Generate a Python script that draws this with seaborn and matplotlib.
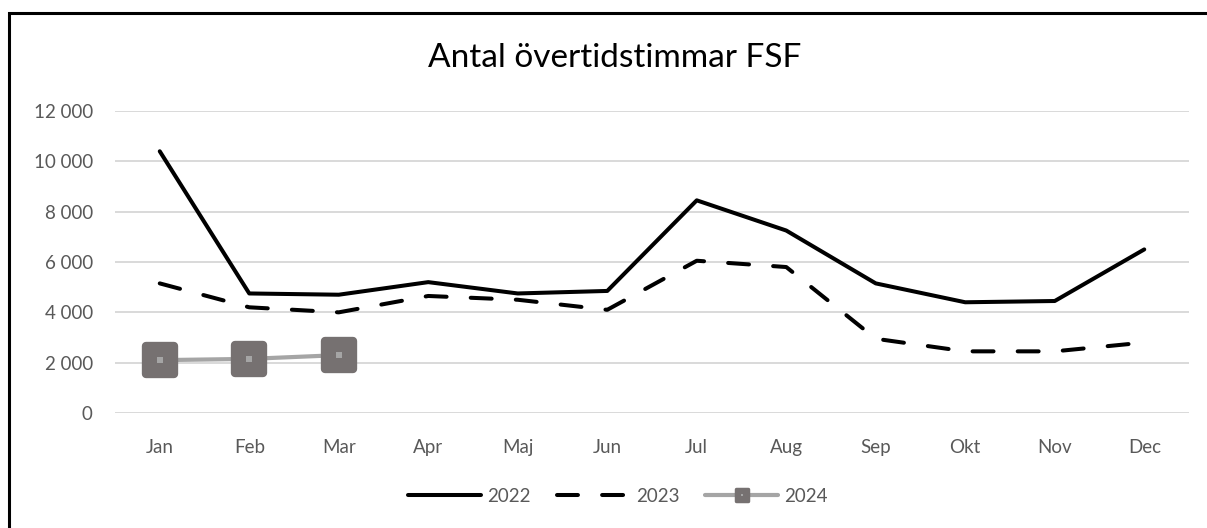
import matplotlib
matplotlib.use("Agg")
import matplotlib.pyplot as plt
import numpy as np
import pandas as pd
import seaborn as sns
from matplotlib.lines import Line2D
from matplotlib.markers import MarkerStyle
from matplotlib.patches import Rectangle

sns.set_theme(style="white")
plt.rcParams["font.family"] = ["Lato", "DejaVu Sans"]

# Monthly overtime hours per year
months = ["Jan", "Feb", "Mar", "Apr", "Maj", "Jun", "Jul", "Aug", "Sep", "Okt", "Nov", "Dec"]
hours_2022 = [10400, 4750, 4700, 5200, 4750, 4850, 8450, 7250, 5150, 4400, 4450, 6500]
hours_2023 = [5150, 4200, 4000, 4650, 4500, 4100, 6050, 5800, 2950, 2450, 2450, 2800]
hours_2024 = [2100, 2150, 2300]
y_ticks = [0, 2000, 4000, 6000, 8000, 10000, 12000]

TEXT_GREY = "#595959"
LINE_2024 = "#a5a5a5"
MARKER_2024 = "#767171"
FS = 13.5

x = np.arange(len(months))
df22 = pd.DataFrame({"x": x, "v": hours_2022})
df23 = pd.DataFrame({"x": x, "v": hours_2023})
df24 = pd.DataFrame({"x": x[: len(hours_2024)], "v": hours_2024})

fig = plt.figure(figsize=(12.07, 5.28), dpi=100)
ax = fig.add_axes([115 / 1207, 115 / 528, (1189 - 115) / 1207, (413 - 111) / 528])

ax.yaxis.grid(True, color="#d9d9d9", linewidth=1.4)
ax.set_axisbelow(True)

sns.lineplot(data=df22, x="x", y="v", ax=ax, color="black", linewidth=2.9,
             solid_capstyle="round", zorder=3)
sns.lineplot(data=df23, x="x", y="v", ax=ax, color="black", linewidth=2.9,
             dashes=False, zorder=3)
ax.lines[-1].set_dashes((5.2, 6.0))
ax.lines[-1].set_dash_capstyle("round")
sns.lineplot(data=df24, x="x", y="v", ax=ax, color=LINE_2024, linewidth=3.0, zorder=4)
rsq = MarkerStyle("s", joinstyle="round")
ax.plot(df24["x"], df24["v"], linestyle="none", marker=rsq, markersize=20,
        markerfacecolor=MARKER_2024, markeredgecolor=MARKER_2024, markeredgewidth=6, zorder=5)
ax.plot(df24["x"], df24["v"], linestyle="none", marker="s", markersize=4.5,
        markerfacecolor=LINE_2024, markeredgewidth=0, zorder=6)

ax.set_xlim(-0.5, 11.5)
ax.set_ylim(0, 12000)
ax.set_xticks(x)
ax.set_xticklabels(months)
ax.set_yticks(y_ticks)
ax.set_yticklabels([f"{v:,}".replace(",", " ") for v in y_ticks])
ax.tick_params(axis="both", length=0, labelsize=FS, colors=TEXT_GREY)
ax.tick_params(axis="y", pad=16)
ax.tick_params(axis="x", pad=19)
ax.set_xlabel("")
ax.set_ylabel("")
for s in ax.spines.values():
    s.set_visible(False)

fig.text(615 / 1207, 1 - 58 / 528, "Antal övertidstimmar FSF", ha="center", va="center",
         fontsize=24, color="black")

# legend
h22 = Line2D([], [], color="black", linewidth=2.9, solid_capstyle="round")
h23 = Line2D([], [], color="black", linewidth=2.9, dashes=(5.2, 6.0), dash_capstyle="round")
h24 = (Line2D([], [], color=LINE_2024, linewidth=3.0, solid_capstyle="round"),
       Line2D([], [], linestyle="none", marker=rsq, markersize=8, markerfacecolor=MARKER_2024,
              markeredgecolor=MARKER_2024, markeredgewidth=2.5),
       Line2D([], [], linestyle="none", marker="s", markersize=1.5,
              markerfacecolor=LINE_2024, markeredgewidth=0))
fig.legend([h22, h23, h24], ["2022", "2023", "2024"], loc="center",
           bbox_to_anchor=(618 / 1207, 1 - 496 / 528), ncol=3, frameon=False,
           fontsize=FS, labelcolor=TEXT_GREY, handlelength=3.9, handletextpad=0.3,
           columnspacing=1.4)

# outer frame
fig.patches.append(Rectangle((9 / 1207, -0.05), 1.2, 1 - 13 / 528 + 0.05,
                             transform=fig.transFigure, fill=False, edgecolor="black",
                             linewidth=2.2, zorder=10))

fig.savefig("out.png", dpi=100)
